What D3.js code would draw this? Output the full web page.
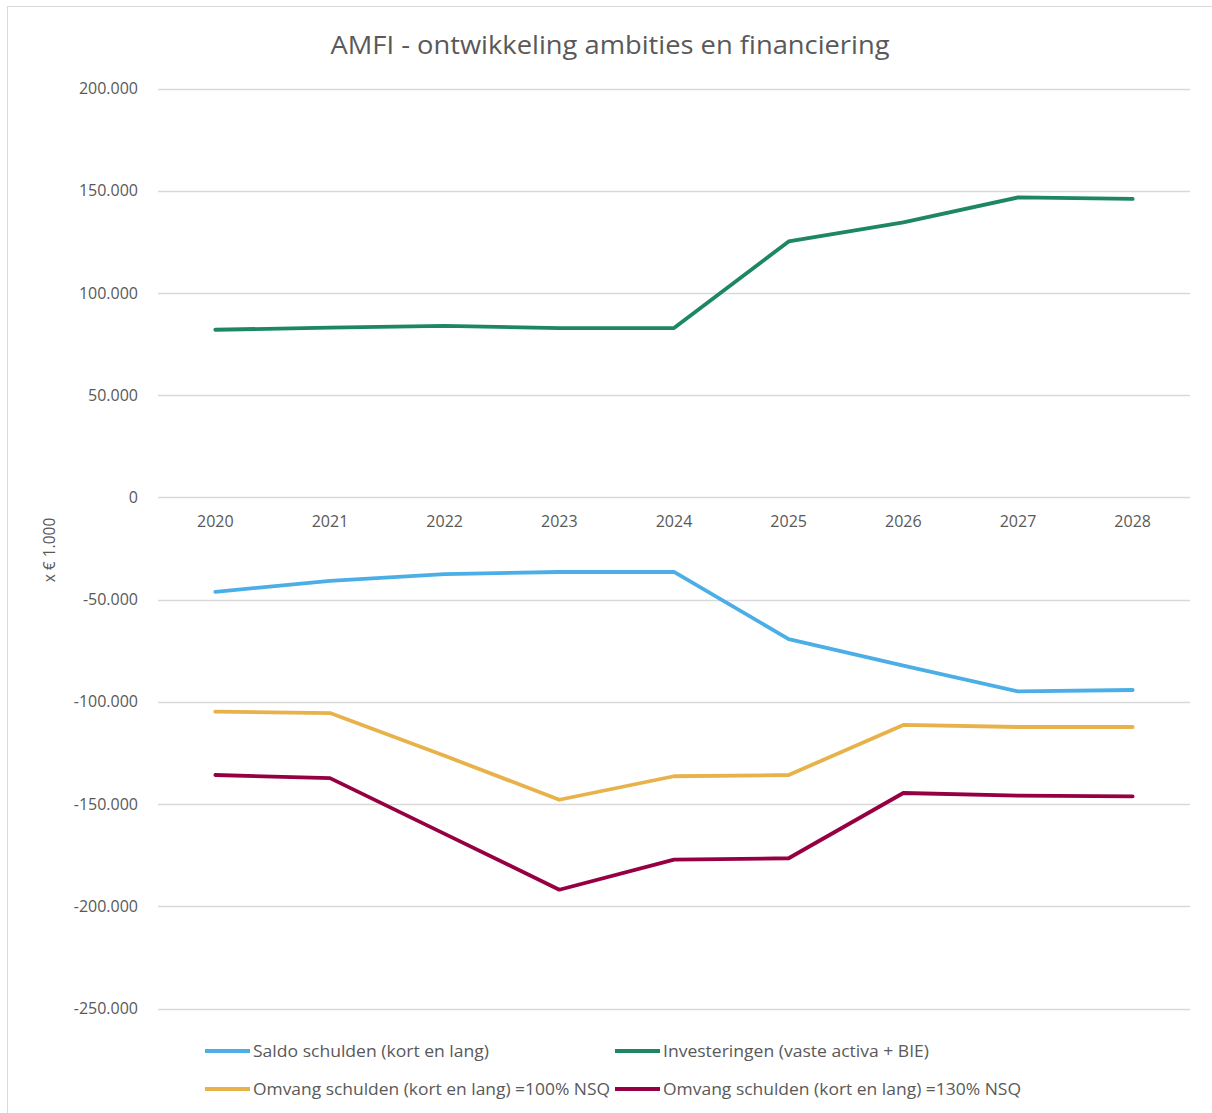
<!DOCTYPE html>
<html>
<head>
<meta charset="utf-8">
<script src="https://cdn.jsdelivr.net/npm/d3@7"></script>
<style>
  html, body { margin: 0; padding: 0; background: #fff; }
  svg { display: block; }
  text { font-family: "Open Sans", "Noto Sans", sans-serif; fill: #595959; }
</style>
</head>
<body>
<svg id="chart" width="1212" height="1113"></svg>
<script>
const years = ["2020","2021","2022","2023","2024","2025","2026","2027","2028"];
const saldoSchulden = [-46200, -40800, -37500, -36500, -36400, -69300, -82300, -94900, -94200];
const investeringen = [82000, 83000, 83900, 82800, 82800, 125200, 134500, 146700, 146000];
const omvang100 = [-104800, -105500, -126400, -147900, -136400, -135800, -111300, -112300, -112300];
const omvang130 = [-135800, -137300, -164600, -191900, -177200, -176500, -144600, -145900, -146200];
const yTicks = [200000, 150000, 100000, 50000, 0, -50000, -100000, -150000, -200000, -250000];
const seriesNames = ["Saldo schulden (kort en lang)", "Investeringen (vaste activa + BIE)",
  "Omvang schulden (kort en lang) =100% NSQ", "Omvang schulden (kort en lang) =130% NSQ"];
const seriesColors = ["#4BAEE6", "#1C8760", "#E8B24A", "#960042"];
const title = "AMFI - ontwikkeling ambities en financiering";
const yTitle = "x € 1.000";

const series = [saldoSchulden, investeringen, omvang100, omvang130];

const svg = d3.select("#chart");

// outer border
svg.append("rect").attr("x", 7.5).attr("y", 6.5).attr("width", 1210).attr("height", 1110)
  .attr("fill", "none").attr("stroke", "#d9d9d9").attr("stroke-width", 1);

const x = d3.scaleBand().domain(years).range([158, 1190]);
const y = d3.scaleLinear().domain([-250000, 200000]).range([1008.5, 88.5]);

const fmt = v => v === 0 ? "0" : d3.format(",")(v).replace(/,/g, ".").replace("−", "-");

// gridlines
svg.append("g").selectAll("line").data(yTicks).join("line")
  .attr("x1", 158).attr("x2", 1190)
  .attr("y1", d => Math.round(y(d)) + 0.5).attr("y2", d => Math.round(y(d)) + 0.5)
  .attr("stroke", "#d9d9d9").attr("stroke-width", 1.3);

// y axis labels
const yAxis = d3.axisLeft(y).tickValues(yTicks).tickFormat(fmt).tickSize(0).tickPadding(0);
const gy = svg.append("g").attr("transform", "translate(138,0)").call(yAxis);
gy.select(".domain").remove();
gy.selectAll("text").attr("font-size", 16).attr("fill", "#595959")
  .style("font-family", "'Open Sans', sans-serif");

// x axis labels (at zero line)
const xAxis = d3.axisBottom(x).tickSize(0).tickPadding(0);
const gx = svg.append("g").attr("transform", `translate(0,${y(0) + 18})`).call(xAxis);
gx.select(".domain").remove();
gx.selectAll("text").attr("font-size", 16).attr("fill", "#595959")
  .style("font-family", "'Open Sans', sans-serif");

// lines
const line = d3.line().x((d, i) => x(years[i]) + x.bandwidth() / 2).y(d => y(d));
svg.append("g").selectAll("path").data(series).join("path")
  .attr("d", d => line(d))
  .attr("fill", "none")
  .attr("stroke", (d, i) => seriesColors[i])
  .attr("stroke-width", 3.8)
  .attr("stroke-linejoin", "round")
  .attr("stroke-linecap", "round");

// title
svg.append("text").attr("x", 610).attr("y", 54).attr("text-anchor", "middle")
  .attr("font-size", 26).attr("textLength", 559).attr("lengthAdjust", "spacingAndGlyphs")
  .text(title);

// y title
svg.append("text").attr("transform", "translate(55,550) rotate(-90)")
  .attr("text-anchor", "middle").attr("font-size", 15.5).text(yTitle);

// legend
const legendPos = [[205, 1051], [615, 1051], [205, 1089], [615, 1089]];
const legendWidths = [236, 266, 357, 358];
const lg = svg.append("g").selectAll("g").data(seriesNames).join("g")
  .attr("transform", (d, i) => `translate(${legendPos[i][0]},${legendPos[i][1]})`);
lg.append("line").attr("x1", 0).attr("x2", 45).attr("y1", 0).attr("y2", 0)
  .attr("stroke", (d, i) => seriesColors[i]).attr("stroke-width", 3.8);
lg.append("text").attr("x", 48).attr("y", 6).attr("font-size", 16)
  .attr("textLength", (d, i) => legendWidths[i]).attr("lengthAdjust", "spacingAndGlyphs")
  .text(d => d);
</script>
</body>
</html>
